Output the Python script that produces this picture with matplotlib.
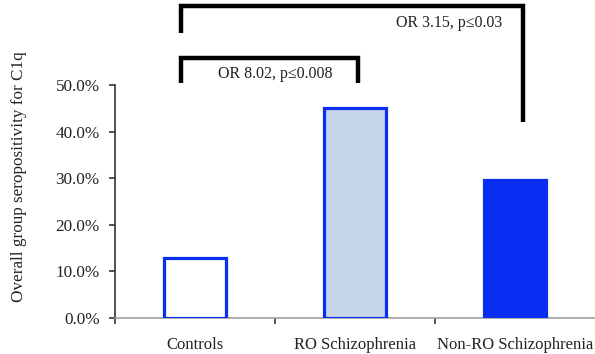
import matplotlib
matplotlib.use("Agg")
import matplotlib.pyplot as plt
from matplotlib.ticker import FuncFormatter, FixedLocator

# data
groups = ["Controls", "RO Schizophrenia", "Non-RO Schizophrenia"]
seropos = [12.8, 45.0, 29.7]
fills = ["white", "#c6d6ea", "#0a2df2"]
edge = "#0a2df2"
tests = ["OR 8.02, p\u22640.008", "OR 3.15, p\u22640.03"]

plt.rcParams["font.family"] = ["Liberation Serif", "DejaVu Serif"]

fig = plt.figure(figsize=(5.95, 3.54), dpi=100)
ax = fig.add_axes([115 / 595, 36 / 354, 480 / 595, 233 / 354])

xs = range(len(groups))
ax.bar(xs, seropos, width=0.39, color=fills, edgecolor=edge, linewidth=2.3, zorder=3)

ax.set_xlim(-0.5, 2.5)
ax.set_ylim(0, 50)
ax.yaxis.set_major_locator(FixedLocator([0, 10, 20, 30, 40, 50]))
ax.yaxis.set_major_formatter(FuncFormatter(lambda v, p: f"{v:.1f}%"))
ax.set_xticks(list(xs))
ax.set_xticklabels(groups)
ax.set_xticks([-0.5, 0.5, 1.5], minor=True)
ax.tick_params(axis="x", which="major", length=0, pad=14, labelsize=12, labelcolor="#222222")
ax.tick_params(axis="x", which="minor", length=4, width=1.2, color="#333333", direction="out")
ax.tick_params(axis="y", length=4, width=1.2, color="#333333", labelsize=12.3,
               labelcolor="#222222", pad=7)

for s in ["top", "right"]:
    ax.spines[s].set_visible(False)
ax.spines["left"].set_color("#333333")
ax.spines["left"].set_linewidth(1.2)
ax.spines["bottom"].set_color("#a0a0a0")
ax.spines["bottom"].set_linewidth(1.2)

ax.set_ylabel("Overall group seropositivity for C1q", fontsize=12.3, color="#222222")
ax.yaxis.set_label_coords(-0.183, 0.605)

# significance brackets
bk = dict(color="black", lw=3.2, clip_on=False, solid_joinstyle="miter", solid_capstyle="butt")
ax.plot([-0.09, -0.09, 1.02, 1.02], [50.4, 55.8, 55.8, 50.4], **bk)
ax.plot([-0.09, -0.09, 2.05, 2.05], [61.2, 67.0, 67.0, 42.1], **bk)
ax.text(0.50, 52.4, tests[0], ha="center", va="center", fontsize=11.5, color="#222222")
ax.text(1.59, 63.3, tests[1], ha="center", va="center", fontsize=11.5, color="#222222")

fig.savefig("out.png", dpi=100)
